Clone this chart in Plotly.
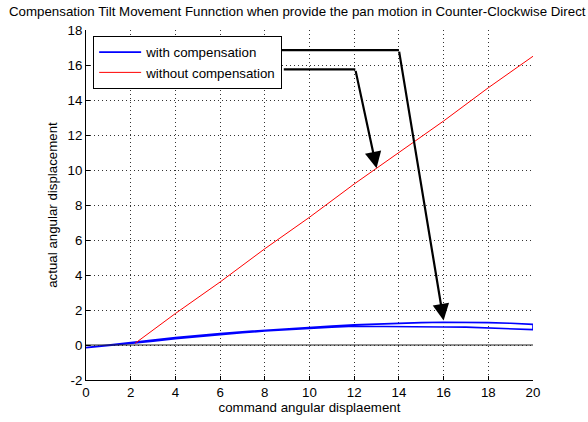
import plotly.graph_objects as go

# data
blue_fwd_x = [0, 1, 2, 3, 4, 5, 6, 7, 8, 9, 10, 11, 12, 13, 14, 15, 16, 17, 18, 19, 20]
blue_fwd_y = [-0.15, -0.02, 0.12, 0.28, 0.42, 0.55, 0.66, 0.76, 0.85, 0.93, 1.0, 1.08, 1.15, 1.2, 1.25, 1.28, 1.3, 1.3, 1.28, 1.24, 1.18]
blue_back_x = [20, 19, 18, 17, 16, 15, 14, 13, 12, 11, 10, 9, 8, 7, 6, 5, 4, 3, 2, 1, 0]
blue_back_y = [0.88, 0.94, 0.99, 1.02, 1.03, 1.04, 1.04, 1.05, 1.07, 1.02, 0.96, 0.9, 0.8, 0.7, 0.6, 0.48, 0.36, 0.22, 0.09, -0.03, -0.15]
red_x = [2.2, 4, 6, 8, 10, 12, 14, 16, 18, 20]
red_y = [0.1, 1.8, 3.6, 5.5, 7.3, 9.2, 11.0, 12.8, 14.7, 16.5]

x_ticks = [0, 2, 4, 6, 8, 10, 12, 14, 16, 18, 20]
y_ticks = [-2, 0, 2, 4, 6, 8, 10, 12, 14, 16, 18]
y_tick_text = ["-2", "0", "2", "4", "6", "8", "10", "12", "14", "16", "18"]

title = "Compensation Tilt Movement Funnction when provide the pan motion in Counter-Clockwise Direct"
x_label = "command angular displaement"
y_label = "actual angular displacement"

# callout paths: (x, y) corners, final segment drawn as arrow
call1 = [(8.2, 16.85), (14.0, 16.85), (16.0, 1.4)]
call2 = [(8.85, 15.75), (12.05, 15.75), (13.0, 10.1)]

font = "Liberation Sans, Arial, sans-serif"
fs = 13.3
fig = go.Figure()
fig.add_trace(go.Scatter(x=blue_fwd_x + blue_back_x, y=blue_fwd_y + blue_back_y, mode="lines",
                         line=dict(color="#0000ff", width=1.6), name="with compensation"))
fig.add_trace(go.Scatter(x=red_x, y=red_y, mode="lines",
                         line=dict(color="#ff0000", width=1), name="without compensation"))
# zero line
fig.add_trace(go.Scatter(x=[0, 20], y=[0, 0], mode="lines", line=dict(color="#222222", width=1),
                         showlegend=False, hoverinfo="skip"))

for path in (call1, call2):
    xs = [p[0] for p in path[:2]]
    ys = [p[1] for p in path[:2]]
    fig.add_trace(go.Scatter(x=xs, y=ys, mode="lines", line=dict(color="black", width=2.2),
                             showlegend=False, hoverinfo="skip", cliponaxis=False))
    fig.add_annotation(x=path[2][0], y=path[2][1], ax=path[1][0], ay=path[1][1],
                       xref="x", yref="y", axref="x", ayref="y", text="",
                       showarrow=True, arrowhead=2, arrowsize=1.5, arrowwidth=2.2,
                       arrowcolor="black")

fig.add_annotation(text=title, xref="paper", yref="paper", x=-0.176, y=1.0, yshift=19,
                   xanchor="left", yanchor="middle", showarrow=False,
                   font=dict(family=font, size=fs, color="black"))

axis_common = dict(showline=True, linecolor="black", linewidth=1, ticks="inside", ticklen=4,
                   tickcolor="black", showgrid=True, gridcolor="#333333", griddash="1px,3px",
                   gridwidth=1, zeroline=False, mirror=False,
                   tickfont=dict(family=font, size=fs, color="black"))
fig.update_xaxes(range=[0, 20], tickvals=x_ticks, title=dict(text=x_label, standoff=2,
                 font=dict(family=font, size=fs, color="black")), **axis_common)
fig.update_yaxes(range=[-2, 18], tickvals=y_ticks, ticktext=y_tick_text,
                 title=dict(text=y_label, standoff=6,
                 font=dict(family=font, size=fs, color="black")), **axis_common)

fig.update_layout(width=588, height=422, margin=dict(l=86, r=55, t=30, b=42),
                  plot_bgcolor="white", paper_bgcolor="white",
                  showlegend=True,
                  legend=dict(x=0.016, y=0.983, xanchor="left", yanchor="top",
                              bgcolor="white", bordercolor="black", borderwidth=1,
                              font=dict(family=font, size=fs, color="black"),
                              itemwidth=42, tracegroupgap=0))
fig.write_html("out.html")
